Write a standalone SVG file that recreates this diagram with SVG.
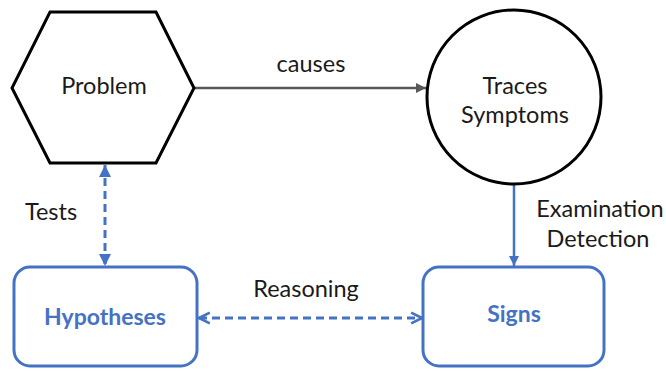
<svg xmlns="http://www.w3.org/2000/svg" width="666" height="371" viewBox="0 0 666 371">
<style>
  .lbl { font-family: Lato, "Open Sans", "Liberation Sans", sans-serif; font-size: 23.5px; fill: #1a1a1a; }
  .blue { font-family: Lato, "Open Sans", "Liberation Sans", sans-serif; font-size: 23px; font-weight: bold; fill: #4472C4; }
  .shape { fill: #ffffff; stroke: #000000; stroke-width: 3; }
  .box { fill: #ffffff; stroke: #4472C4; stroke-width: 3; }
  .conn-gray { stroke: #595959; stroke-width: 2.5; fill: none; }
  .conn-blue { stroke: #4472C4; stroke-width: 2.5; fill: none; }
  .dash { stroke-width: 3; stroke-dasharray: 8 5; }
</style>
<defs>
  <marker id="arrGray" viewBox="0 0 10 10" refX="10" refY="5" markerWidth="4" markerHeight="4" orient="auto" markerUnits="strokeWidth">
    <path d="M0,0 L10,5 L0,10 z" fill="#595959"/>
  </marker>
  <marker id="arrBlue" viewBox="0 0 10 10" refX="10" refY="5" markerWidth="4" markerHeight="4" orient="auto-start-reverse" markerUnits="strokeWidth">
    <path d="M0,0 L10,5 L0,10 z" fill="#4472C4"/>
  </marker>
  <marker id="chevBlue" viewBox="0 0 10 10" refX="9" refY="5" markerWidth="4.5" markerHeight="4.5" orient="auto-start-reverse" markerUnits="strokeWidth">
    <path d="M1,1 L9,5 L1,9" fill="none" stroke="#4472C4" stroke-width="2"/>
  </marker>
</defs>
<rect width="666" height="371" fill="#ffffff"/>
<g id="connectors">
  <line class="conn-gray" x1="195" y1="88" x2="426" y2="88" marker-end="url(#arrGray)"/>
  <line class="conn-blue" x1="514" y1="185" x2="514" y2="266" marker-end="url(#arrBlue)"/>
  <line class="conn-blue dash" x1="105" y1="165" x2="105" y2="266" marker-start="url(#arrBlue)" marker-end="url(#arrBlue)"/>
  <line class="conn-blue dash" x1="199" y1="318" x2="422" y2="318" marker-start="url(#chevBlue)" marker-end="url(#chevBlue)"/>
  <text class="lbl" x="311" y="72" text-anchor="middle">causes</text>
  <text class="lbl" x="600" y="217" text-anchor="middle">Examination</text>
  <text class="lbl" x="598" y="247" text-anchor="middle">Detection</text>
  <text class="lbl" x="51" y="220" text-anchor="middle">Tests</text>
  <text class="lbl" x="306" y="297" text-anchor="middle">Reasoning</text>
</g>
<g id="problem">
  <polygon class="shape" points="50,12 156,12 194,88 156,163 50,163 12,88"/>
  <text class="lbl" x="104" y="94" text-anchor="middle">Problem</text>
</g>
<g id="traces">
  <circle class="shape" cx="514" cy="97" r="87" stroke-width="2.5"/>
  <text class="lbl" x="515" y="94" text-anchor="middle">Traces</text>
  <text class="lbl" x="515" y="123" text-anchor="middle">Symptoms</text>
</g>
<g id="hypotheses">
  <rect class="box" x="14" y="267" width="183" height="99" rx="16"/>
  <text class="blue" x="105" y="325" text-anchor="middle">Hypotheses</text>
</g>
<g id="signs">
  <rect class="box" x="423" y="267" width="181" height="99" rx="16"/>
  <text class="blue" x="514" y="322" text-anchor="middle">Signs</text>
</g>
</svg>
